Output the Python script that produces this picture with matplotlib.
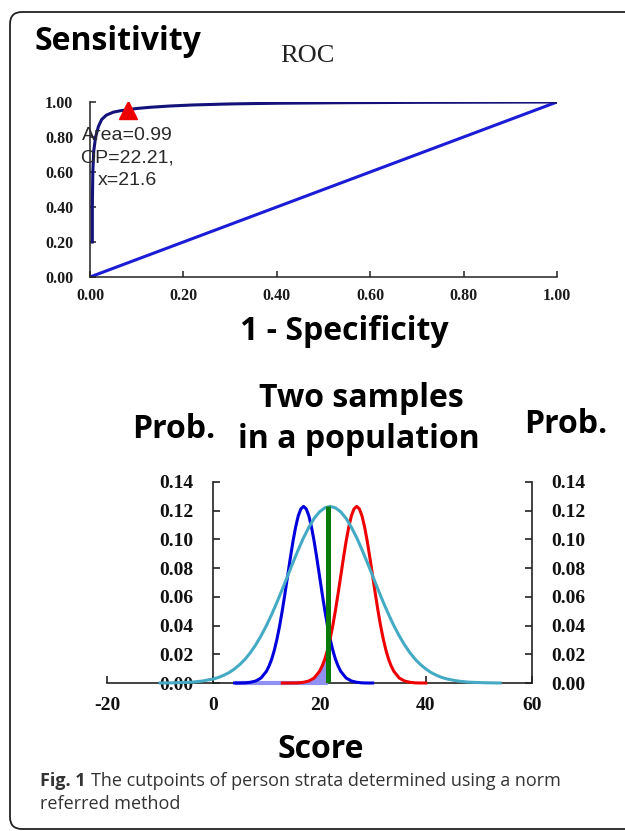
import matplotlib
matplotlib.use("Agg")
import matplotlib.pyplot as plt
from matplotlib.patches import FancyBboxPatch, Rectangle

# ROC curve (1 - specificity, sensitivity)
fpr = [0.005, 0.005, 0.006, 0.008, 0.012, 0.018, 0.025, 0.035, 0.05, 0.065,
       0.081, 0.10, 0.13, 0.17, 0.22, 0.30, 0.40, 0.55, 0.70, 0.85, 1.00]
tpr = [0.20, 0.40, 0.60, 0.72, 0.80, 0.86, 0.90, 0.925, 0.942, 0.950,
       0.956, 0.963, 0.970, 0.977, 0.983, 0.989, 0.993, 0.996, 0.998, 0.999, 1.00]
chance = [0.0, 1.0]
op_point = (0.081, 0.955)
roc_ticks = [0.0, 0.2, 0.4, 0.6, 0.8, 1.0]
roc_labels = ["0.00", "0.20", "0.40", "0.60", "0.80", "1.00"]
roc_note = "Area=0.99\nOP=22.21,\nx=21.6"

# score distributions (score, probability)
blue_x = [4, 5, 6, 7, 8, 9, 10, 10.5, 11, 11.5, 12, 12.5, 13, 13.5, 14, 14.5,
          15, 15.5, 16, 16.5, 17, 17.5, 18, 18.5, 19, 19.5, 20, 20.5, 21, 21.5,
          22, 22.5, 23, 23.5, 24, 25, 26, 27, 28, 29, 30]
blue_y = [0.0, 0.0, 0.0001, 0.0005, 0.0014, 0.0035, 0.0081, 0.0118, 0.0166,
          0.0229, 0.0307, 0.0399, 0.0506, 0.0623, 0.0746, 0.0869, 0.0985,
          0.1085, 0.1164, 0.1213, 0.123, 0.1213, 0.1164, 0.1085, 0.0985,
          0.0869, 0.0746, 0.0623, 0.0506, 0.0399, 0.0307, 0.0229, 0.0166,
          0.0118, 0.0081, 0.0035, 0.0014, 0.0005, 0.0001, 0.0, 0.0]
red_x = [13, 14, 15, 16, 17, 18, 19, 20, 20.5, 21, 21.5, 22, 22.5, 23, 23.5,
         24, 24.5, 25, 25.5, 26, 26.5, 27, 27.5, 28, 28.5, 29, 29.5, 30, 30.5,
         31, 31.5, 32, 32.5, 33, 33.5, 34, 35, 36, 37, 38, 39, 40]
red_y = [0.0, 0.0, 0.0, 0.0001, 0.0005, 0.0014, 0.0035, 0.0081, 0.0118,
         0.0166, 0.0229, 0.0307, 0.0399, 0.0506, 0.0623, 0.0746, 0.0869,
         0.0985, 0.1085, 0.1164, 0.1213, 0.123, 0.1213, 0.1164, 0.1085,
         0.0985, 0.0869, 0.0746, 0.0623, 0.0506, 0.0399, 0.0307, 0.0229,
         0.0166, 0.0118, 0.0081, 0.0035, 0.0014, 0.0005, 0.0001, 0.0, 0.0]
pop_x = [-10, -8, -6, -4, -2, 0, 1, 2, 3, 4, 5, 6, 7, 8, 9, 10, 11, 12, 13,
         14, 15, 16, 17, 18, 19, 20, 21, 22, 23, 24, 25, 26, 27, 28, 29, 30,
         31, 32, 33, 34, 35, 36, 37, 38, 39, 40, 41, 42, 43, 44, 46, 48, 50,
         52, 54]
pop_y = [0.0, 0.0001, 0.0003, 0.0006, 0.0014, 0.0028, 0.0039, 0.0054, 0.0073,
         0.0098, 0.0129, 0.0166, 0.0212, 0.0266, 0.0329, 0.0399, 0.0478,
         0.0563, 0.0653, 0.0746, 0.0839, 0.0928, 0.1012, 0.1085, 0.1147,
         0.1192, 0.1220, 0.123, 0.1220, 0.1192, 0.1147, 0.1085, 0.1012,
         0.0928, 0.0839, 0.0746, 0.0653, 0.0563, 0.0478, 0.0399, 0.0329,
         0.0266, 0.0212, 0.0166, 0.0129, 0.0098, 0.0073, 0.0054, 0.0039,
         0.0028, 0.0014, 0.0006, 0.0003, 0.0001, 0.0]
shade_start = 4
cut_point = 21.6
cut_height = 0.123
score_ticks = [-20, 0, 20, 40, 60]
prob_ticks = [0.0, 0.02, 0.04, 0.06, 0.08, 0.10, 0.12, 0.14]
prob_labels = ["0.00", "0.02", "0.04", "0.06", "0.08", "0.10", "0.12", "0.14"]

W, H = 625, 831
fig = plt.figure(figsize=(W / 100, H / 100), dpi=100)

def fx(px):
    return px / W

def fy(py):
    return 1 - py / H

head = dict(family="Open Sans", weight="bold", size=23, color="black")

# ------- frame
bg = fig.add_axes([0, 0, 1, 1], zorder=-5)
bg.set_xlim(0, W)
bg.set_ylim(H, 0)
bg.axis("off")
bg.add_patch(FancyBboxPatch((10, 12), 700, 817,
                            boxstyle="round,pad=0,rounding_size=12",
                            fc="white", ec="#222222", lw=1.3))

# ------- ROC panel
ax1 = fig.add_axes([fx(90), fy(277), fx(467), 175 / H])
ax1.set_facecolor("none")
ax1.plot(chance, chance, color="#1c1cd6", lw=2.2, solid_capstyle="butt")
ax1.plot(fpr, tpr, color="#12127a", lw=2.2)
ax1.plot(*op_point, marker="^", ms=13, color="#ee0000", mec="#ee0000")
ax1.set_xlim(0, 1)
ax1.set_ylim(0, 1)
for s in ["top", "right"]:
    ax1.spines[s].set_visible(False)
for s in ["left", "bottom"]:
    ax1.spines[s].set_linewidth(1.1)
    ax1.spines[s].set_color("#222222")
ax1.set_xticks(roc_ticks, roc_labels)
ax1.set_yticks(roc_ticks, roc_labels)
ax1.tick_params(direction="in", length=4, width=1.1, color="#222222")
ax1.tick_params(axis="y", pad=12)
ax1.tick_params(axis="x", pad=8)
for lab in ax1.get_xticklabels() + ax1.get_yticklabels():
    lab.set_fontfamily("Liberation Serif")
    lab.set_fontweight("bold")
    lab.set_fontsize(11.5)
    lab.set_color("#1a1a1a")

fig.text(fx(127), fy(158), roc_note, ha="center", va="center",
         multialignment="center", family="Liberation Sans", size=14,
         color="#2a2a2a", linespacing=1.45)
fig.text(fx(35), fy(50), "Sensitivity", ha="left", va="baseline", **head)
fig.text(fx(307), fy(62), "ROC", ha="center", va="baseline",
         family="Liberation Serif", size=19, color="#222222")
fig.text(fx(344), fy(340), "1 - Specificity", ha="center", va="baseline", **head)

# ------- distribution panel
ax2 = fig.add_axes([fx(107), fy(683), fx(425), 201 / H])
ax2.set_facecolor("none")
ax2.set_xlim(-20, 60)
ax2.set_ylim(0, 0.14)

shade = ax2.fill_between(red_x, red_y, 0, color="#9090f0", lw=0, zorder=2)
clip = Rectangle((shade_start, 0), cut_point - shade_start, 0.2,
                 transform=ax2.transData)
shade.set_clip_path(clip)
ax2.plot([shade_start, cut_point], [0, 0], color="#9090f0", lw=3,
         solid_capstyle="butt", zorder=3, clip_on=False)
ax2.plot(blue_x, blue_y, color="#0000dd", lw=2.2, zorder=4, clip_on=False)
ax2.plot(red_x, red_y, color="#ee0000", lw=2.2, zorder=4, clip_on=False)
ax2.plot(pop_x, pop_y, color="#45abc4", lw=2.2, zorder=5, clip_on=False)
ax2.vlines(cut_point, 0, cut_height, color="#0a7a0a", lw=3.6, zorder=6)

ax2.spines["top"].set_visible(False)
ax2.spines["left"].set_position(("data", 0))
for s in ["left", "bottom", "right"]:
    ax2.spines[s].set_linewidth(1.2)
    ax2.spines[s].set_color("#222222")
ax2.set_xticks(score_ticks, [str(t) for t in score_ticks])
ax2.set_yticks(prob_ticks, prob_labels)
ax2.tick_params(axis="y", which="both", left=True, right=True,
                labelleft=True, labelright=True, direction="in",
                length=5, width=1.2, color="#222222")
ax2.tick_params(axis="y", pad=14)
ax2.tick_params(axis="x", direction="in", length=5, width=1.2,
                color="#222222", pad=10)
for lab in ax2.get_xticklabels() + ax2.get_yticklabels():
    lab.set_fontfamily("Liberation Serif")
    lab.set_fontweight("bold")
    lab.set_fontsize(14)
    lab.set_color("#111111")

fig.text(fx(361), fy(407), "Two samples", ha="center", va="baseline", **head)
fig.text(fx(359), fy(448), "in a population", ha="center", va="baseline", **head)
fig.text(fx(174), fy(438), "Prob.", ha="center", va="baseline", **head)
fig.text(fx(566), fy(433), "Prob.", ha="center", va="baseline", **head)
fig.text(fx(321), fy(758), "Score", ha="center", va="baseline", **head)

# ------- caption
cap = dict(family="Open Sans", size=13, color="#333333", va="baseline")
t = fig.text(fx(40), fy(786), "Fig. 1", ha="left", weight="bold", **cap)
fig.canvas.draw()
bb = t.get_window_extent()
fig.text(fx(bb.x1 + 5), fy(786),
         "The cutpoints of person strata determined using a norm",
         ha="left", **cap)
fig.text(fx(40), fy(809), "referred method", ha="left", **cap)

fig.savefig("out.png", dpi=100)
